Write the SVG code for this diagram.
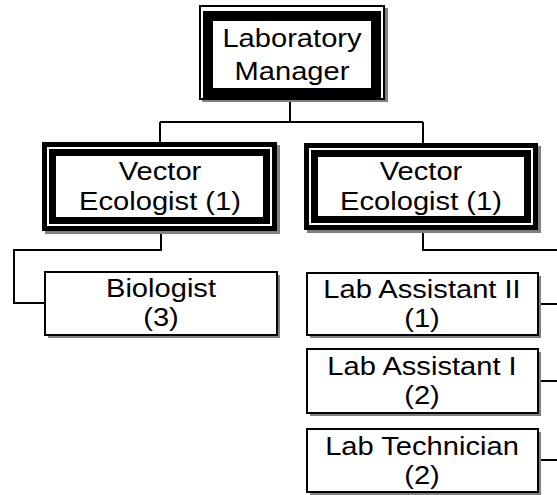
<svg xmlns="http://www.w3.org/2000/svg" width="557" height="495" viewBox="0 0 557 495">
<style>
.t{font-family:"Liberation Sans",Arial,sans-serif;font-size:26px;fill:#000;text-anchor:middle}
.sh{fill:#808080}
.blk{fill:#000}
.wht{fill:#fff}
.box{fill:#fff;stroke:#000;stroke-width:2}
.c{fill:none;stroke:#000;stroke-width:2}
</style>
<rect width="557" height="495" fill="#fff"/>
<g id="connectors">
<path class="c" d="M290,100V122M160,122H423M160,122V142M423,122V143"/>
<path class="c" d="M161,231V250H14V303H45"/>
<path class="c" d="M423,230V250H557"/>
<path class="c" d="M538,304H557M538,381H557M538,460H557"/>
</g>
<g id="lab-manager">
<rect class="sh" x="202" y="8" width="186" height="94"/>
<rect class="blk" x="199" y="5" width="186" height="95"/>
<rect class="wht" x="201" y="7" width="182" height="91"/>
<rect class="blk" x="203" y="11" width="178" height="87"/>
<rect class="wht" x="213" y="21" width="158" height="67"/>
<text class="t" transform="translate(292,47) scale(1.12,1)">Laboratory</text>
<text class="t" transform="translate(292,80) scale(1.12,1)">Manager</text>
</g>
<g id="vector-ecologist-left">
<rect class="sh" x="45" y="145" width="235" height="89"/>
<rect class="blk" x="42" y="142" width="235" height="89"/>
<rect class="wht" x="47" y="147" width="225" height="79"/>
<rect class="blk" x="49" y="149" width="221" height="75"/>
<rect class="wht" x="56" y="156" width="207" height="61"/>
<text class="t" transform="translate(160,180) scale(1.12,1)">Vector</text>
<text class="t" transform="translate(160,210) scale(1.12,1)">Ecologist (1)</text>
</g>
<g id="vector-ecologist-right">
<rect class="sh" x="307" y="146" width="234" height="87"/>
<rect class="blk" x="304" y="143" width="234" height="87"/>
<rect class="wht" x="309" y="148" width="224" height="77"/>
<rect class="blk" x="311" y="150" width="220" height="73"/>
<rect class="wht" x="318" y="157" width="206" height="59"/>
<text class="t" transform="translate(421,180) scale(1.12,1)">Vector</text>
<text class="t" transform="translate(421,210) scale(1.12,1)">Ecologist (1)</text>
</g>
<g id="biologist">
<rect class="sh" x="48" y="275" width="232" height="63"/>
<rect class="box" x="45" y="272" width="232" height="63"/>
<text class="t" transform="translate(161,297) scale(1.12,1)">Biologist</text>
<text class="t" transform="translate(161,326) scale(1.12,1)">(3)</text>
</g>
<g id="lab-assistant-2">
<rect class="sh" x="310" y="276" width="231" height="62"/>
<rect class="box" x="307" y="273" width="231" height="62"/>
<text class="t" transform="translate(422,298) scale(1.12,1)">Lab Assistant II</text>
<text class="t" transform="translate(422,327) scale(1.12,1)">(1)</text>
</g>
<g id="lab-assistant-1">
<rect class="sh" x="310" y="352" width="231" height="64"/>
<rect class="box" x="307" y="349" width="231" height="64"/>
<text class="t" transform="translate(422,375) scale(1.12,1)">Lab Assistant I</text>
<text class="t" transform="translate(422,404) scale(1.12,1)">(2)</text>
</g>
<g id="lab-technician">
<rect class="sh" x="310" y="432" width="231" height="63"/>
<rect class="box" x="307" y="429" width="231" height="63"/>
<text class="t" transform="translate(422,455) scale(1.12,1)">Lab Technician</text>
<text class="t" transform="translate(422,484) scale(1.12,1)">(2)</text>
</g>
</svg>
